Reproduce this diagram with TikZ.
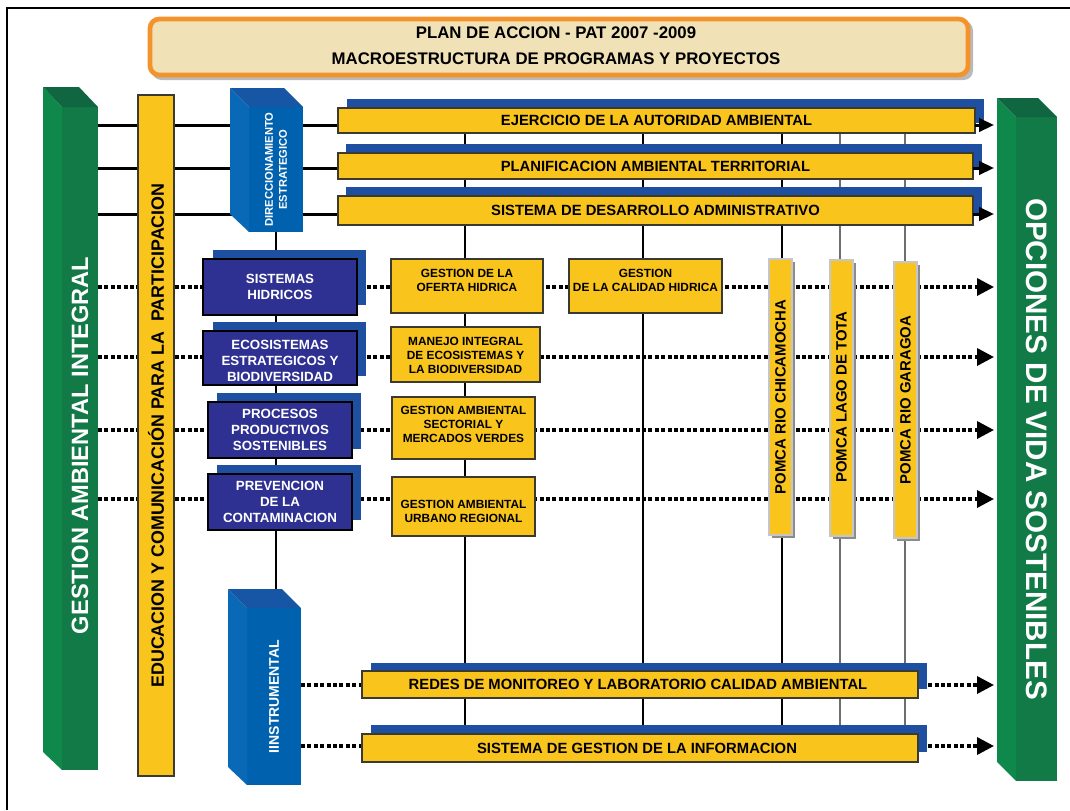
\documentclass[tikz,border=0pt]{standalone}
\usepackage{fontspec}
\setmainfont{Liberation Sans}
\usetikzlibrary{arrows.meta,fit,calc}
\pgfdeclarelayer{bg}
\pgfsetlayers{bg,main}
\definecolor{ylw}{HTML}{F9C41C}
\definecolor{pblue}{HTML}{2E3192}
\definecolor{sblue}{HTML}{1F4FA0}
\definecolor{bfront}{HTML}{0062AF}
\definecolor{bside}{HTML}{0A69B6}
\definecolor{btop}{HTML}{1656A4}
\definecolor{gfront}{HTML}{117A46}
\definecolor{gside}{HTML}{0E894B}
\definecolor{gtop}{HTML}{0F6640}
\definecolor{orng}{HTML}{F4922B}
\definecolor{beige}{HTML}{F0E1B6}
\definecolor{bordr}{HTML}{3C3A2E}
\definecolor{pgrey}{HTML}{8C8C8C}
\definecolor{vgrey}{HTML}{6E6E6E}
\tikzset{
  boxfit/.style={inner sep=0pt, outer sep=0pt},
  ybar/.style={boxfit, fill=ylw, draw=bordr, line width=0.9pt},
  barlabel/.style={font=\fontsize{11.1}{13}\selectfont\bfseries},
  progbox/.style={boxfit, fill=pblue, draw=black, line width=0.9pt},
  proglabel/.style={text=white, align=center, font=\fontsize{10}{12}\selectfont\bfseries},
  projbox/.style={boxfit, fill=ylw, draw=bordr, line width=0.9pt},
  projlabel/.style={align=center, font=\fontsize{8.9}{10.5}\selectfont\bfseries},
  pombox/.style={boxfit, fill=ylw, draw=gray!45, line width=0.8pt},
  pomlabel/.style={rotate=90, font=\fontsize{11.2}{13}\selectfont\bfseries},
  hline/.style={line width=2.25pt, black},
  dotline/.style={line width=2.6pt, black, dash pattern=on 3pt off 1.8pt},
  vline/.style={line width=1.5pt, black},
  vlinegrey/.style={line width=1.1pt, vgrey},
  solidtip/.style={-{Triangle[length=11.25pt,width=10pt]}},
  dottip/.style={-{Triangle[length=12.75pt,width=12.75pt]}},
}
\begin{document}
\begin{tikzpicture}[x=0.75pt,y=-0.75pt]
\useasboundingbox (0,0) rectangle (1070,810);
% frame
\draw[line width=1.4pt] (7,810) -- (7,8) -- (1070,8);

% title
\fill[gray!55, rounded corners=7pt] (152,21) rectangle (973,80);
\node[boxfit, fit={(150,19)(968,75)}, rounded corners=7pt, fill=beige, draw=orng, line width=3.5pt] (title) {};
\node[align=center, font=\fontsize{12.6}{19.5}\selectfont\bfseries] at (556,46) {PLAN DE ACCION - PAT 2007 -2009\\MACROESTRUCTURA DE PROGRAMAS Y PROYECTOS};

% left green column
\node[boxfit, fill=gfront, fit={(62,107)(98,770)}] (gai) {};
\fill[gside] (gai.north west) -- ++(-19,-20) -- ($(gai.south west)+(-19,-18)$) -- (gai.south west) -- cycle;
\fill[gtop] (gai.north west) -- ++(-19,-20) -- ($(gai.north east)+(-19,-20)$) -- (gai.north east) -- cycle;
\node[rotate=90, text=white, font=\fontsize{17.7}{20}\selectfont\bfseries] at ($(gai.center)+(0,7)$) {GESTION AMBIENTAL INTEGRAL};

% right green column
\node[boxfit, fill=gfront, fit={(1016,117)(1057,781)}] (ovs) {};
\fill[gside] (ovs.north west) -- ++(-19,-19) -- ($(ovs.south west)+(-19,-19)$) -- (ovs.south west) -- cycle;
\fill[gtop] (ovs.north west) -- ++(-19,-19) -- ($(ovs.north east)+(-19,-19)$) -- (ovs.north east) -- cycle;
\node[rotate=-90, text=white, font=\fontsize{22.2}{24}\selectfont\bfseries] at (ovs.center) {OPCIONES DE VIDA SOSTENIBLES};
\coordinate (tipx) at (994,0);

% educacion column
\node[boxfit, fill=ylw, draw=bordr, line width=0.9pt, fit={(138,95)(174,776)}] (edu) {};
\node[rotate=90, font=\fontsize{13.4}{15}\selectfont\bfseries] at (edu.center) {EDUCACION Y COMUNICACIÓN PARA LA \ PARTICIPACION};

% direccionamiento
\node[boxfit, fill=bfront, fit={(249,107)(303,232)}] (dir) {};
\fill[bside] (dir.north west) -- ++(-19,-19) -- ($(dir.south west)+(-19,-18)$) -- (dir.south west) -- cycle;
\fill[btop] (dir.north west) -- ++(-19,-19) -- ($(dir.north east)+(-19,-19)$) -- (dir.north east) -- cycle;
\node[rotate=90, text=white, align=center, font=\fontsize{8.4}{10.5}\selectfont\bfseries] at (dir.center) {DIRECCIONAMIENTO\\ESTRATEGICO};

% instrumental
\node[boxfit, fill=bfront, fit={(247,608)(301,785)}] (ins) {};
\fill[bside] (ins.north west) -- ++(-19,-19) -- ($(ins.south west)+(-19,-18)$) -- (ins.south west) -- cycle;
\fill[btop] (ins.north west) -- ++(-19,-19) -- ($(ins.north east)+(-19,-19)$) -- (ins.north east) -- cycle;
\node[rotate=90, text=white, font=\fontsize{10.5}{12}\selectfont\bfseries] at (ins.center) {IINSTRUMENTAL};

% top bars
\fill[sblue] (347,99) rectangle (984,123);
\node[ybar, fit={(338,108)(975,133)}] (b1) {};
\node[barlabel] at (b1.center) {EJERCICIO DE LA AUTORIDAD AMBIENTAL};
\fill[sblue] (346,144) rectangle (982,169);
\node[ybar, fit={(338,153)(973,179)}] (b2) {};
\node[barlabel] at (b2.center) {PLANIFICACION AMBIENTAL TERRITORIAL};
\fill[sblue] (346,187) rectangle (982,216);
\node[ybar, fit={(338,196)(973,225)}] (b3) {};
\node[barlabel] at (b3.center) {SISTEMA DE DESARROLLO ADMINISTRATIVO};

% program boxes
\fill[sblue] (213,250) rectangle (366,305);
\node[progbox, fit={(203,259)(357,315)}] (sh) {};
\node[proglabel] at (sh.center) {SISTEMAS\\HIDRICOS};
\fill[sblue] (213,322) rectangle (366,376);
\node[progbox, fit={(203,331)(357,385)}] (eco) {};
\node[proglabel] at ($(eco.center)+(0,3)$) {ECOSISTEMAS\\ESTRATEGICOS Y\\BIODIVERSIDAD};
\fill[sblue] (217,393) rectangle (361,449);
\node[progbox, fit={(208,402)(352,458)}] (ppr) {};
\node[proglabel] at (ppr.center) {PROCESOS\\PRODUCTIVOS\\SOSTENIBLES};
\fill[sblue] (217,465) rectangle (361,520);
\node[progbox, fit={(208,474)(352,530)}] (pre) {};
\node[proglabel] at (pre.center) {PREVENCION\\DE LA\\CONTAMINACION};

% project boxes
\node[projbox, fit={(391,259)(543,313)}] (gofe) {};
\node[projlabel] at ($(gofe.center)+(0,-6)$) {GESTION DE LA\\OFERTA HIDRICA};
\node[projbox, fit={(569,259)(722,313)}] (gcal) {};
\node[projlabel] at ($(gcal.center)+(0,-6)$) {GESTION\\DE LA CALIDAD HIDRICA};
\node[projbox, fit={(391,327)(540,382)}] (mie) {};
\node[projlabel] at ($(mie.center)+(0,1)$) {MANEJO INTEGRAL\\DE ECOSISTEMAS Y\\LA BIODIVERSIDAD};
\node[projbox, fit={(392,397)(535,459)}] (gas) {};
\node[projlabel] at ($(gas.center)+(0,-4)$) {GESTION AMBIENTAL\\SECTORIAL Y\\MERCADOS VERDES};
\node[projbox, fit={(392,477)(535,536)}] (gau) {};
\node[projlabel] at ($(gau.center)+(0,5)$) {GESTION AMBIENTAL\\URBANO REGIONAL};

% POMCA boxes
\fill[pgrey] (772,262) rectangle (795,538);
\node[pombox, fit={(769,259)(792,535)}] (pc) {};
\node[pomlabel] at ($(pc.center)+(0,0)$) {POMCA RIO CHICAMOCHA};
\fill[pgrey] (833,263) rectangle (856,539);
\node[pombox, fit={(830,260)(853,536)}] (pt) {};
\node[pomlabel] at ($(pt.center)+(0,-1)$) {POMCA LAGO DE TOTA};
\fill[pgrey] (897,265) rectangle (920,541);
\node[pombox, fit={(894,262)(917,538)}] (pg) {};
\node[pomlabel] at (pg.center) {POMCA RIO GARAGOA};

% bottom bars
\fill[sblue] (371,663) rectangle (927,689);
\node[ybar, fit={(362,671)(918,698)}] (red) {};
\node[barlabel] at ($(red.center)+(-2,0)$) {REDES DE MONITOREO Y LABORATORIO CALIDAD AMBIENTAL};
\fill[sblue] (371,725) rectangle (927,752);
\node[ybar, fit={(362,734)(918,762)}] (sgi) {};
\node[barlabel] at ($(sgi.center)+(-3,0)$) {SISTEMA DE GESTION DE LA INFORMACION};

% coordinates for rows and columns
\coordinate (h1) at (0,125);
\coordinate (h2) at (0,168);
\coordinate (h3) at (0,214);
\coordinate (d1) at (0,287);
\coordinate (d2) at (0,357);
\coordinate (d3) at (0,430);
\coordinate (d4) at (0,499);
\coordinate (d5) at (0,685);
\coordinate (d6) at (0,746);
\coordinate (v1) at (465,0);
\coordinate (v2) at (643,0);
\coordinate (v3) at (782,0);
\coordinate (v4) at (840,0);
\coordinate (v5) at (905,0);
\coordinate (v0) at (276,0);

\begin{pgfonlayer}{bg}
  % solid rows behind
  \draw[hline] (gai.east |- h1) -- (b1.west |- h1);
  \draw[hline] (gai.east |- h2) -- (b2.west |- h2);
  \draw[hline] (gai.east |- h3) -- (b3.west |- h3);
  % dotted rows
  \draw[dotline, dottip] (gai.east |- d1) -- (tipx |- d1);
  \draw[dotline, dottip] (gai.east |- d2) -- (tipx |- d2);
  \draw[dotline, dottip] (gai.east |- d3) -- (tipx |- d3);
  \draw[dotline, dottip] (gai.east |- d4) -- (tipx |- d4);
  \draw[dotline, dottip] (ins.east |- d5) -- (tipx |- d5);
  \draw[dotline, dottip] (ins.east |- d6) -- (tipx |- d6);
  % verticals
  \draw[vline] (v1 |- b1.south) -- (v1 |- sgi.north);
  \draw[vline] (v2 |- b1.south) -- (v2 |- sgi.north);
  \draw[vline] (v3 |- b1.south) -- (v3 |- sgi.north);
  \draw[vlinegrey] (v4 |- b1.south) -- (v4 |- sgi.north);
  \draw[vlinegrey] (v5 |- b1.south) -- (v5 |- sgi.north);
  \draw[vline] (v0 |- dir.south) -- ($(v0 |- ins.north)+(0,-19)$);
\end{pgfonlayer}

% arrows from top bars to the right column
\draw[hline, solidtip] (b1.east |- h1) -- (tipx |- h1);
\draw[hline, solidtip] (b2.east |- h2) -- (tipx |- h2);
\draw[hline, solidtip] (b3.east |- h3) -- (tipx |- h3);
\end{tikzpicture}
\end{document}
